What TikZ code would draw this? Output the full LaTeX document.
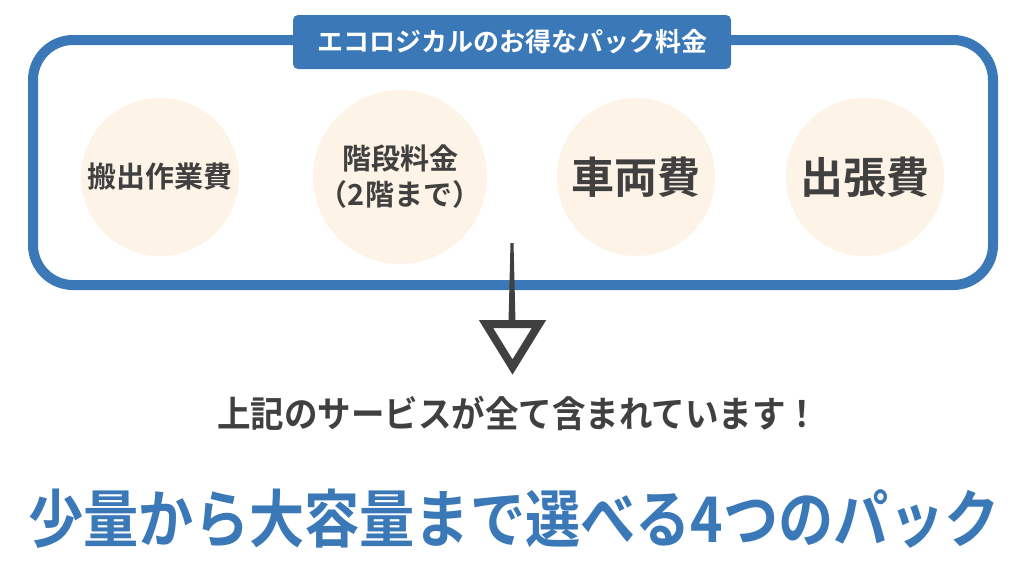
\documentclass[tikz,border=0pt]{standalone}
\usepackage{fontspec}
\newfontfamily\jpfont{Noto Sans CJK JP}[BoldFont={* Bold}]
\definecolor{frameblue}{HTML}{3A78B8}
\definecolor{circfill}{HTML}{FDF3E6}
\definecolor{darktext}{HTML}{404040}
\tikzset{
  x=1pt, y=-1pt,
  item/.style={circle, fill=circfill, minimum size=158pt, inner sep=0pt, text=darktext, align=center, font=\jpfont\bfseries},
  smalltxt/.style={font=\jpfont\bfseries\fontsize{29}{36}\selectfont},
  bigtxt/.style={font=\jpfont\bfseries\fontsize{43}{48}\selectfont},
}
\begin{document}
\begin{tikzpicture}
\useasboundingbox (0,0) rectangle (1024,579);
\fill[white] (0,0) rectangle (1024,579);
% frame
\draw[frameblue, line width=10pt, rounded corners=40pt] (33,40) rectangle (993,285);
% title
\node[fill=frameblue, rounded corners=5pt, minimum width=438pt, minimum height=54pt, inner sep=0pt,
      text=white, font=\jpfont\bfseries\fontsize{26}{30}\selectfont] (title) at (512,42) {エコロジカルのお得なパック料金};
% circles
\node[item, smalltxt] (c1) at (160,177) {搬出作業費};
\node[item, smalltxt] (c2) at (400,177) {階段料金\\（2階まで）};
\node[item, bigtxt] (c3) at (636,177) {車両費};
\node[item, bigtxt] (c4) at (865,177) {出張費};
% arrow
\coordinate (atop) at (512,243);
\coordinate (abot) at (512,322);
\fill[darktext] (510.5,243) -- (513.5,243) -- (515.5,322) -- (508.5,322) -- cycle;
\draw[darktext, line width=8pt, line join=miter] (486,324) -- (539,324) -- (512.5,367) -- cycle;
% texts
\node[text=darktext, yscale=1.08, font=\jpfont\bfseries\fontsize{33.5}{36}\selectfont] (sub) at (518,413) {上記のサービスが全て含まれています！};
\node[text=frameblue, xscale=0.92, yscale=1.05, font=\jpfont\bfseries\fontsize{60}{66}\selectfont] (main) at (514,519) {少量から大容量まで選べる4つのパック};
\end{tikzpicture}
\end{document}
